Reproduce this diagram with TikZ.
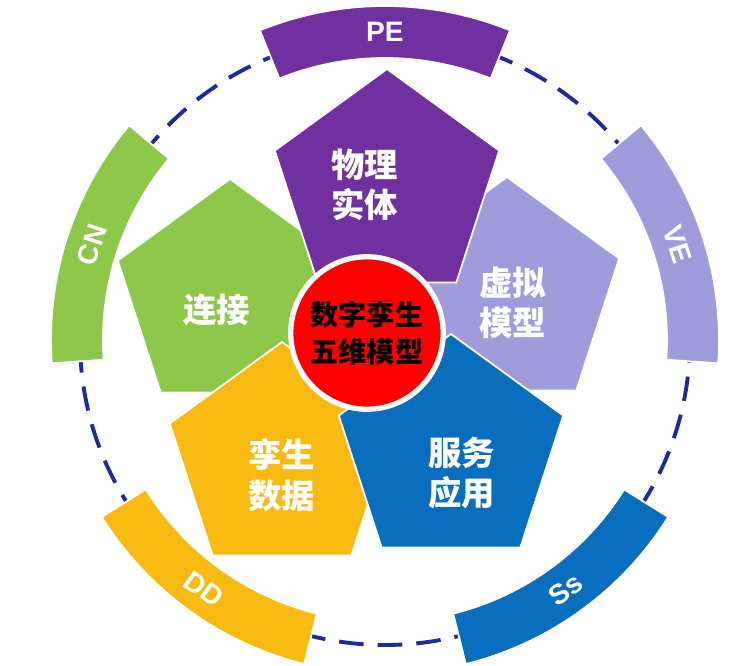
\documentclass[tikz,border=0pt]{standalone}
\usepackage{fontspec}
\setmainfont{Liberation Sans}
\newfontfamily\cjk{Noto Sans CJK SC}
\usetikzlibrary{shapes.geometric}
\definecolor{cpurple}{HTML}{7030A0}
\definecolor{cgreen}{HTML}{8DC84A}
\definecolor{clilac}{HTML}{A09CDC}
\definecolor{cblue}{HTML}{0A6EBE}
\definecolor{cyellow}{HTML}{F8BA10}
\definecolor{cnavy}{HTML}{1C2A9C}
\tikzset{
  penta/.style={regular polygon, regular polygon sides=5, minimum size=4.72cm, draw=white, line width=1pt,
    inner sep=0pt},
  pentatext/.style={text=white, font=\cjk\bfseries\fontsize{19}{23}\selectfont, align=center, inner sep=0pt},
  band/.style={draw=white, line width=1pt},
  bandtext/.style={text=white, font=\bfseries\fontsize{16}{18}\selectfont}
}
\begin{document}
\begin{tikzpicture}[x=0.02cm, y=0.02cm]
\useasboundingbox (-385,-326) rectangle (367,340);
% dashed ring
\draw[cnavy, line width=2.2pt, dash pattern=on 14pt off 8pt] (0,0) circle (305);
% outer bands
\foreach \ang/\col/\lab/\rot in {90/cpurple/PE/0, 18/clilac/VE/-72, -54/cblue/Ss/36, -126/cyellow/DD/-36, 162/cgreen/CN/72}{
  \fill[\col, band] (\ang-22:282) arc (\ang-22:\ang+22:282) -- (\ang+22:334) arc (\ang+22:\ang-22:334) -- cycle;
  \node[bandtext, rotate=\rot] (b\lab) at (\ang:308) {\lab};
}
% pentagons
\node[penta, fill=cgreen] (conn) at (-155,43) {};
\node[penta, fill=clilac] (virt) at (122,45) {};
\node[penta, fill=cpurple] (phys) at (2,153) {};
\node[penta, fill=cyellow] (data) at (-103,-120) {};
\node[penta, fill=cblue] (serv) at (66,-112) {};
% labels
\node[pentatext] (tphys) at (-20,155) {物理\\实体};
\node[pentatext] (tconn) at (-168,30) {连接};
\node[pentatext] (tvirt) at (128,37) {虚拟\\模型};
\node[pentatext] (tdata) at (-103,-135) {孪生\\数据};
\node[pentatext] (tserv) at (77,-133) {服务\\应用};
% centre
\node[circle, fill=red, draw=white, line width=3pt, minimum size=3.05cm, align=center,
  font=\cjk\bfseries\fontsize{16}{21}\selectfont] (core) at (-18,7) {数字孪生\\五维模型};
\end{tikzpicture}
\end{document}
